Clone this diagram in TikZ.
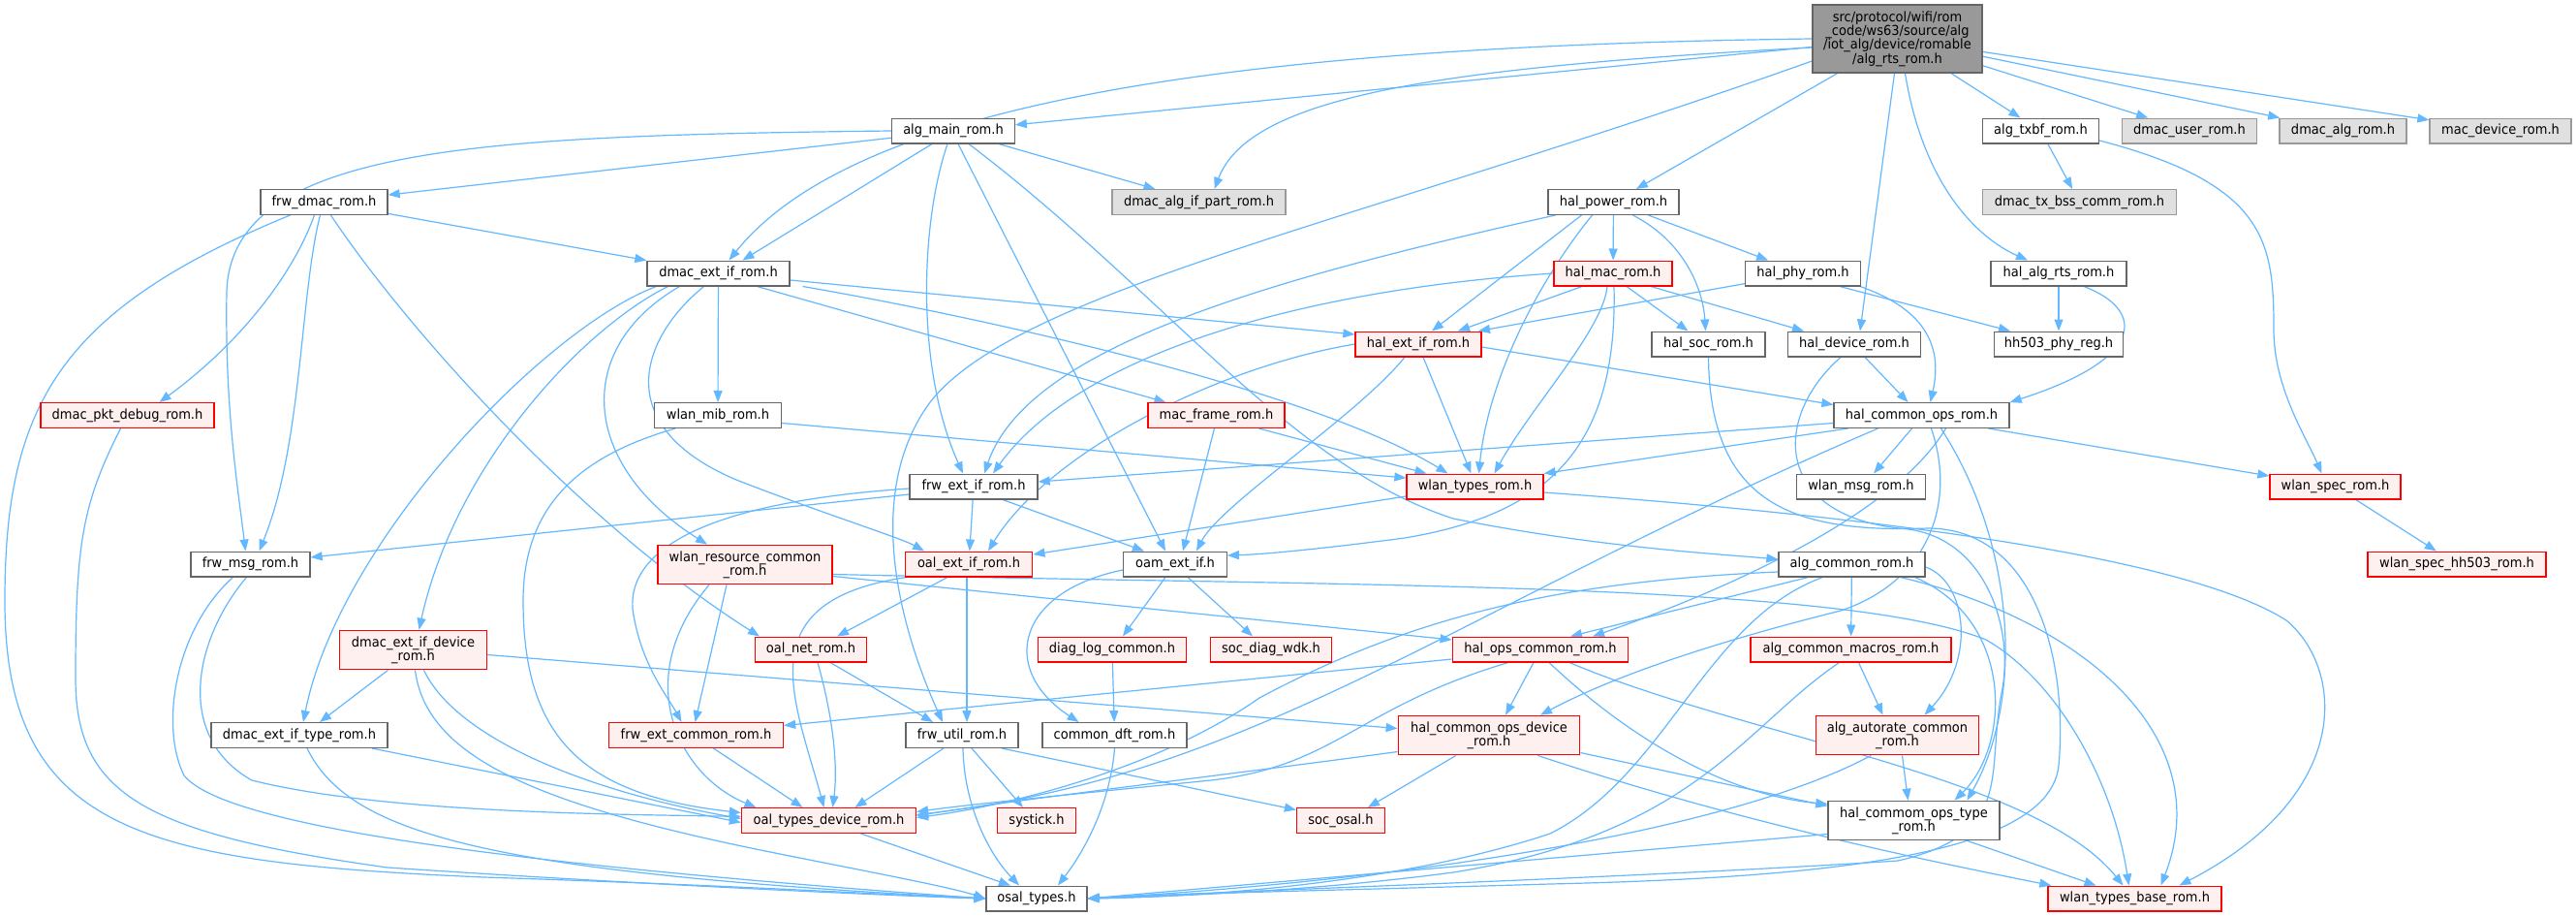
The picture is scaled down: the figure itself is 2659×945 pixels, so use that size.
\documentclass[tikz,border=0pt]{standalone}
\usepackage{fontspec}
\setmainfont{DejaVu Sans}[FakeStretch=0.93]
\usetikzlibrary{arrows.meta}
\definecolor{eblue}{HTML}{63B8FF}
\definecolor{redfill}{HTML}{FFF0F0}
\definecolor{grayfill}{HTML}{E0E0E0}
\definecolor{bgray}{HTML}{666666}
\definecolor{lgray}{HTML}{999999}
\newcommand\fnt{\fontsize{14}{14.3}\selectfont}
\pgfdeclarelayer{back}
\pgfdeclarelayer{bg}
\pgfsetlayers{back,bg,main}
\begin{document}
\begin{tikzpicture}[x=1pt,y=-1pt,
  nd/.style={draw=bgray, fill=white, line width=1.3pt, minimum height=25.7pt, inner sep=0pt, font=\fnt, align=center, text=black},
  rd/.style={nd, draw=red, fill=redfill},
  gy/.style={nd, draw=lgray, fill=grayfill},
  tw/.style={minimum height=40.4pt},
  ln/.style={draw=eblue, line width=1.2pt, -{Triangle[length=12pt,width=9pt]}}]
\useasboundingbox (0,0) rectangle (2659,945);
\begin{pgfonlayer}{back}
\fill[white] (0,0) rectangle (2659,945);
\end{pgfonlayer}
% nodes
\node[nd, fill=lgray, minimum width=175pt, minimum height=70pt] (m) at (1958.5,40) {src/protocol/wifi/rom\\\_code/ws63/source/alg\\/iot\_alg/device/romable\\/alg\_rts\_rom.h};
\node[nd, minimum width=126.5pt] (amain) at (984,135) {alg\_main\_rom.h};
\node[nd, minimum width=120pt] (txbf) at (2106.5,135) {alg\_txbf\_rom.h};
\node[gy, minimum width=139.5pt] (duser) at (2260,135) {dmac\_user\_rom.h};
\node[gy, minimum width=131pt] (dalg) at (2418.5,135) {dmac\_alg\_rom.h};
\node[gy, minimum width=146pt] (macdev) at (2581,135) {mac\_device\_rom.h};
\node[nd, minimum width=131pt] (fdmac) at (334.5,208.5) {frw\_dmac\_rom.h};
\node[gy, minimum width=179pt] (dalgif) at (1237.5,208.5) {dmac\_alg\_if\_part\_rom.h};
\node[nd, minimum width=135pt] (hpower) at (1665.5,208.5) {hal\_power\_rom.h};
\node[gy, minimum width=200pt] (dtxbss) at (2146.5,208.5) {dmac\_tx\_bss\_comm\_rom.h};
\node[nd, minimum width=147pt] (dext) at (741.5,282) {dmac\_ext\_if\_rom.h};
\node[rd, minimum width=122pt] (hmac) at (1665,282) {hal\_mac\_rom.h};
\node[nd, minimum width=118.5pt] (hphy) at (1861,282) {hal\_phy\_rom.h};
\node[nd, minimum width=140pt] (hrts) at (2125,282) {hal\_alg\_rts\_rom.h};
\node[rd, minimum width=130pt] (hext) at (1464,355) {hal\_ext\_if\_rom.h};
\node[nd, minimum width=117pt] (hsoc) at (1763.5,355) {hal\_soc\_rom.h};
\node[nd, minimum width=137.5pt] (hdev) at (1914,355) {hal\_device\_rom.h};
\node[nd, minimum width=133.5pt] (hh503) at (2125,355) {hh503\_phy\_reg.h};
\node[rd, minimum width=179pt] (pktdbg) at (131.5,428.5) {dmac\_pkt\_debug\_rom.h};
\node[nd, minimum width=130.7pt] (mib) at (741,428.5) {wlan\_mib\_rom.h};
\node[rd, minimum width=141pt] (macfr) at (1255.5,428.5) {mac\_frame\_rom.h};
\node[nd, minimum width=181pt] (hcops) at (1983.5,428.5) {hal\_common\_ops\_rom.h};
\node[nd, minimum width=132pt] (fext) at (1005,502) {frw\_ext\_if\_rom.h};
\node[rd, minimum width=141pt] (wtypes) at (1522.5,502) {wlan\_types\_rom.h};
\node[nd, minimum width=133.5pt] (wmsg) at (1921,502) {wlan\_msg\_rom.h};
\node[rd, minimum width=135pt] (wspec) at (2410.5,502) {wlan\_spec\_rom.h};
\node[nd, minimum width=123pt] (fmsg) at (258.5,582) {frw\_msg\_rom.h};
\node[rd, tw, minimum width=180pt] (wres) at (769,582.5) {wlan\_resource\_common\\\_rom.h};
\node[rd, minimum width=131.6pt] (oalext) at (1000,582) {oal\_ext\_if\_rom.h};
\node[nd, minimum width=106.5pt] (oam) at (1213,582) {oam\_ext\_if.h};
\node[nd, minimum width=151pt] (algc) at (1911.5,582) {alg\_common\_rom.h};
\node[rd, minimum width=184pt] (wspech) at (2536,582) {wlan\_spec\_hh503\_rom.h};
\node[rd, tw, minimum width=152pt] (dextdev) at (426.5,670.5) {dmac\_ext\_if\_device\\\_rom.h};
\node[rd, minimum width=115pt] (oalnet) at (837,670) {oal\_net\_rom.h};
\node[rd, minimum width=153.5pt] (diag) at (1148,670) {diag\_log\_common.h};
\node[rd, minimum width=125.5pt] (socdiag) at (1312,670) {soc\_diag\_wdk.h};
\node[rd, minimum width=181.5pt] (hops) at (1590,670) {hal\_ops\_common\_rom.h};
\node[rd, minimum width=207pt] (algmac) at (1910.5,670) {alg\_common\_macros\_rom.h};
\node[nd, minimum width=182pt] (dexttype) at (309,758.5) {dmac\_ext\_if\_type\_rom.h};
\node[rd, minimum width=180pt] (fextc) at (718.5,758.5) {frw\_ext\_common\_rom.h};
\node[nd, minimum width=116pt] (futil) at (993,758.5) {frw\_util\_rom.h};
\node[nd, minimum width=149pt] (cdft) at (1150.5,758.5) {common\_dft\_rom.h};
\node[rd, tw, minimum width=187.5pt] (hcopsdev) at (1537,758.5) {hal\_common\_ops\_device\\\_rom.h};
\node[rd, tw, minimum width=168pt] (algauto) at (1958.5,758.5) {alg\_autorate\_common\\\_rom.h};
\node[rd, minimum width=180pt] (otd) at (855.5,846.5) {oal\_types\_device\_rom.h};
\node[rd, minimum width=80.7pt] (systick) at (1070,846.5) {systick.h};
\node[rd, minimum width=91pt] (socosal) at (1384,846.5) {soc\_osal.h};
\node[nd, tw, minimum width=177pt] (hcotype) at (1975.5,846.5) {hal\_commom\_ops\_type\\\_rom.h};
\node[nd, minimum width=104pt] (osal) at (1070,927) {osal\_types.h};
\node[rd, minimum width=179pt] (wtbase) at (2203.5,927) {wlan\_types\_base\_rom.h};
\begin{pgfonlayer}{bg}
% main
\draw[ln] (m) -- (amain);
\draw[ln] ([yshift=-9pt]m.west) .. controls (1480,70) and (1290,100) .. ([xshift=16pt]dalgif.north);
\draw[ln] (m.west) .. controls (1250,48) and (880,110) .. ([xshift=11pt]dext.north);
\draw[ln] ([yshift=-23pt]m.west) .. controls (1400,230) and (1050,300) .. (960,415) .. controls (890,510) and (930,650) .. ([xshift=-20pt]futil.north);
\draw[ln] (m) -- (hpower);
\draw[ln] ([xshift=-3pt]m.south) -- ([xshift=6pt]hdev.north);
\draw[ln] ([xshift=8pt]m.south) .. controls (1985,190) and (2040,245) .. ([xshift=-32pt]hrts.north);
\draw[ln] (m) -- (txbf);
\draw[ln] (m) -- (duser);
\draw[ln] (m) -- (dalg);
\draw[ln] (m) -- (macdev);
% alg_main
\draw[ln] (amain) -- (fdmac);
\draw[ln] (amain.west) .. controls (500,140) and (240,150) .. (234,300) .. controls (232,420) and (245,500) .. ([xshift=-5pt]fmsg.north);
\draw[ln] (amain) -- ([xshift=25pt]dext.north);
\draw[ln] (amain) -- ([xshift=-45pt]dalgif.north);
\draw[ln] ([xshift=-6pt]amain.south) .. controls (950,230) and (945,380) .. ([xshift=-11pt]fext.north);
\draw[ln] ([xshift=5pt]amain.south) -- ([xshift=-10pt]oam.north);
\draw[ln] ([xshift=16pt]amain.south) .. controls (1200,300) and (1330,480) .. (1500,535) .. controls (1650,565) and (1780,572) .. ([yshift=5pt]algc.west);
% txbf
\draw[ln] (txbf) -- (dtxbss);
\draw[ln] ([yshift=-10pt]txbf.east) .. controls (2340,190) and (2347,250) .. (2347,340) .. controls (2347,400) and (2380,450) .. ([xshift=-14pt]wspec.north);
% frw_dmac
\draw[ln] (fdmac) -- (dext);
\draw[ln] ([xshift=-4pt]fdmac.south) .. controls (310,300) and (312,460) .. ([xshift=9pt]fmsg.north);
\draw[ln] ([xshift=-35pt]fdmac.south) .. controls (60,320) and (5,420) .. (5,620) .. controls (5,860) and (150,890) .. (500,905) .. controls (800,915) and (950,925) .. (osal.west);
\draw[ln] ([xshift=-10pt]fdmac.south) .. controls (300,290) and (240,360) .. ([xshift=33pt]pktdbg.north);
\draw[ln] ([xshift=7pt]fdmac.south) .. controls (420,340) and (600,540) .. ([xshift=-53pt]oalnet.north);
% hal_power
\draw[ln] (hpower) -- (hmac);
\draw[ln] (hpower) -- (hphy);
\draw[ln] ([xshift=-33pt]hpower.south) -- ([xshift=14pt]hext.north);
\draw[ln] ([xshift=20pt]hpower.south) .. controls (1740,250) and (1758,300) .. ([xshift=-3pt]hsoc.north);
\draw[ln] ([xshift=-22pt]hpower.south) .. controls (1580,300) and (1535,400) .. ([xshift=4pt]wtypes.north);
\draw[ln] ([xshift=-60pt]hpower.south) .. controls (1300,290) and (1060,360) .. ([xshift=11pt]fext.north);
% dmac_ext_if
\draw[ln] ([yshift=-7pt]dext.east) -- ([yshift=10pt]hext.west);
\draw[ln] ([xshift=87pt]dext.south) .. controls (1000,325) and (1350,400) .. ([xshift=-28pt]wtypes.north);
\draw[ln] ([xshift=40pt]dext.south) -- ([xshift=-52pt]macfr.north);
\draw[ln] (dext) -- (mib);
\draw[ln] ([xshift=-40pt]dext.south) .. controls (590,360) and (600,480) .. ([xshift=-39pt]wres.north);
\draw[ln] ([xshift=-15pt]dext.south) .. controls (660,350) and (630,440) .. (760,495) .. controls (850,530) and (930,555) .. ([xshift=-46pt]oalext.north);
\draw[ln] ([xshift=-52pt]dext.south) .. controls (600,340) and (470,480) .. ([xshift=6pt]dextdev.north);
\draw[ln] ([xshift=-64pt]dext.south) .. controls (560,340) and (350,560) .. ([xshift=4pt]dexttype.north);
% hal_mac
\draw[ln] ([xshift=-32pt]hmac.south) -- ([xshift=41pt]hext.north);
\draw[ln] ([xshift=14pt]hmac.south) -- ([xshift=-21pt]hsoc.north);
\draw[ln] ([xshift=39pt]hmac.south) -- ([xshift=-52pt]hdev.north);
\draw[ln] (hmac.west) .. controls (1330,300) and (1110,370) .. ([xshift=20pt]fext.north);
\draw[ln] ([xshift=-6pt]hmac.south) .. controls (1655,340) and (1580,420) .. ([xshift=20pt]wtypes.north);
\draw[ln] ([xshift=1pt]hmac.south) .. controls (1670,460) and (1600,530) .. (1450,555) .. controls (1350,568) and (1300,572) .. ([yshift=9pt]oam.east);
% hal_phy
\draw[ln] (hphy) -- ([xshift=62pt]hext.north);
\draw[ln] ([xshift=38pt]hphy.south) -- ([xshift=-50pt]hh503.north);
\draw[ln] ([xshift=59pt]hphy.south) .. controls (1990,320) and (2005,360) .. ([xshift=9pt]hcops.north);
% hal_alg_rts
\draw[ln] (hrts) -- (hh503);
\draw[ln] ([xshift=26pt]hrts.south) .. controls (2215,320) and (2215,370) .. (hcops.north east);
% hal_ext_if
\draw[ln] ([yshift=-3pt]hext.east) -- ([yshift=11pt]hcops.west);
\draw[ln] ([xshift=5pt]hext.south) -- ([xshift=-4pt]wtypes.north);
\draw[ln] (hext.west) .. controls (1250,380) and (1080,470) .. ([xshift=20pt]oalext.north);
\draw[ln] ([xshift=-14pt]hext.south) .. controls (1400,430) and (1260,520) .. ([xshift=22pt]oam.north);
% hal_soc, hal_device
\draw[ln] (hsoc.south) .. controls (1765,520) and (1850,550) .. (1990,545) .. controls (2100,545) and (2135,680) .. (2125,790) .. controls (2115,880) and (1900,905) .. (1600,912) .. controls (1400,918) and (1200,922) .. (osal.east);
\draw[ln] ([xshift=-14pt]hdev.south) .. controls (1830,430) and (1830,530) .. (1960,545) .. controls (2050,550) and (2080,650) .. (2066,715) .. controls (2050,800) and (2080,860) .. (1959,888) .. controls (1700,905) and (1300,918) .. (osal.east);
\draw[ln] ([xshift=11pt]hdev.south) -- ([xshift=-14pt]hcops.north);
% dmac_pkt_debug
\draw[ln] ([xshift=-7pt]pktdbg.south) .. controls (85,520) and (78,560) .. (78,700) .. controls (78,820) and (150,860) .. (400,895) .. controls (700,915) and (950,925) .. (osal.west);
% wlan_mib
\draw[ln] ([yshift=-8pt]mib.east) -- ([yshift=9pt]wtypes.west);
\draw[ln] ([xshift=-44pt]mib.south) .. controls (600,470) and (540,520) .. (540,620) .. controls (540,760) and (600,820) .. ([yshift=8pt]otd.west);
% mac_frame
\draw[ln] ([xshift=44pt]macfr.south) -- ([xshift=-50pt]wtypes.north);
\draw[ln] ([xshift=-2pt]macfr.south) -- ([xshift=8pt]oam.north);
% hal_common_ops
\draw[ln] ([yshift=-8pt]hcops.west) -- ([yshift=5pt]fext.east);
\draw[ln] ([xshift=-76pt]hcops.south) -- (wtypes.north east);
\draw[ln] ([xshift=-10pt]hcops.south) -- ([xshift=13pt]wmsg.north);
\draw[ln] ([xshift=69pt]hcops.south) -- ([yshift=11pt]wspec.west);
\draw[ln] ([xshift=25pt]hcops.south) .. controls (1950,540) and (1750,620) .. ([xshift=54pt]hops.north);
\draw[ln] ([xshift=10pt]hcops.south) .. controls (2020,520) and (1990,600) .. (1900,630) .. controls (1800,655) and (1680,690) .. ([xshift=53pt]hcopsdev.north);
\draw[ln] ([xshift=-45pt]hcops.south) .. controls (1500,630) and (1300,800) .. ([yshift=6pt]otd.east);
\draw[ln] ([xshift=20pt]hcops.south) .. controls (2080,560) and (2090,720) .. ([xshift=55pt]hcotype.north);
% frw_ext_if
\draw[ln] ([yshift=-8pt]fext.west) -- ([yshift=7pt]fmsg.east);
\draw[ln] (fext) -- (oalext);
\draw[ln] ([xshift=30pt]fext.south) -- ([xshift=-32pt]oam.north);
\draw[ln] ([yshift=-2pt]fext.west) .. controls (700,520) and (640,580) .. (655,640) .. controls (665,690) and (690,720) .. ([xshift=-15pt]fextc.north);
% wlan_types
\draw[ln] ([yshift=-10pt]wtypes.west) -- ([yshift=10pt]oalext.east);
\draw[ln] ([yshift=-6pt]wtypes.east) .. controls (1900,530) and (2250,570) .. (2360,640) .. controls (2420,690) and (2430,820) .. ([xshift=46pt]wtbase.north);
% wlan_spec
\draw[ln] (wspec) -- (wspech);
% frw_msg
\draw[ln] ([xshift=-18pt]fmsg.south) .. controls (180,650) and (165,750) .. (190,800) .. controls (230,850) and (500,890) .. (osal.west);
\draw[ln] ([xshift=-4pt]fmsg.south) .. controls (200,660) and (180,760) .. (260,805) .. controls (400,840) and (650,840) .. ([yshift=4pt]otd.west);
% wlan_resource_common
\draw[ln] ([xshift=-19pt]wres.south) -- ([xshift=-1pt]fextc.north);
\draw[ln] ([yshift=-12pt]wres.east) -- ([yshift=10pt]hops.west);
\draw[ln] ([yshift=-10pt]wres.east) .. controls (1400,605) and (1900,600) .. (2050,660) .. controls (2120,700) and (2180,800) .. ([xshift=-6pt]wtbase.north);
\draw[ln] ([xshift=-37pt]wres.south) .. controls (650,700) and (700,800) .. ([xshift=-75pt]otd.north);
% oal_ext_if
\draw[ln] ([xshift=-22pt]oalext.south) -- ([xshift=27pt]oalnet.north);
\draw[ln] ([xshift=-2pt]oalext.south) -- ([xshift=5pt]futil.north);
\draw[ln] ([xshift=-64pt]oalext.south) .. controls (770,620) and (820,720) .. ([xshift=-5pt]otd.north);
% oam_ext_if
\draw[ln] ([xshift=-10pt]oam.south) -- ([xshift=11pt]diag.north);
\draw[ln] ([xshift=13pt]oam.south) -- ([xshift=-19pt]socdiag.north);
\draw[ln] ([yshift=-6pt]oam.west) .. controls (1050,610) and (1030,690) .. ([xshift=-37pt]cdft.north);
% alg_common
\draw[ln] (algc) -- (algmac);
\draw[ln] ([xshift=-45pt]algc.south) -- ([xshift=31pt]hops.north);
\draw[ln] ([yshift=-3pt]algc.east) .. controls (2030,600) and (2040,680) .. ([xshift=28pt]algauto.north);
\draw[ln] ([xshift=65pt]algc.south) .. controls (2080,640) and (2075,770) .. ([xshift=42pt]hcotype.north);
\draw[ln] ([yshift=-8pt]algc.west) .. controls (1600,600) and (1450,640) .. (1300,720) .. controls (1200,790) and (1050,830) .. ([yshift=3pt]otd.east);
\draw[ln] ([xshift=-30pt]algc.south) .. controls (1760,640) and (1720,800) .. (1600,860) .. controls (1450,910) and (1250,925) .. (osal.east);
\draw[ln] ([xshift=50pt]algc.south) .. controls (2150,640) and (2290,760) .. ([xshift=27pt]wtbase.north);
% dmac_ext_if_device
\draw[ln] ([xshift=-26pt]dextdev.south) -- ([xshift=21pt]dexttype.north);
\draw[ln] ([yshift=-5pt]dextdev.east) -- ([yshift=7pt]hcopsdev.west);
\draw[ln] ([xshift=11pt]dextdev.south) .. controls (470,760) and (600,815) .. ([yshift=2pt]otd.west);
\draw[ln] ([xshift=2pt]dextdev.south) .. controls (440,780) and (550,830) .. (800,880) .. controls (900,900) and (980,915) .. (osal.west);
% oal_net
\draw[ln] ([xshift=20pt]oalnet.south) -- ([xshift=-30pt]futil.north);
\draw[ln] ([xshift=7pt]oalnet.south) .. controls (860,740) and (865,790) .. ([xshift=4pt]otd.north);
% diag
\draw[ln] (diag) -- (cdft);
% hal_ops_common
\draw[ln] ([yshift=-10pt]hops.west) -- ([yshift=10pt]fextc.east);
\draw[ln] ([xshift=-7pt]hops.south) -- ([xshift=17pt]hcopsdev.north);
\draw[ln] ([xshift=9pt]hops.south) .. controls (1680,760) and (1780,820) .. ([yshift=17pt]hcotype.west);
\draw[ln] ([xshift=-33pt]hops.south) .. controls (1400,730) and (1380,790) .. (1250,805) .. controls (1100,820) and (1000,830) .. ([yshift=9pt]otd.east);
\draw[ln] ([xshift=30pt]hops.south) .. controls (1800,760) and (2100,800) .. ([xshift=-12pt]wtbase.north);
% alg_common_macros
\draw[ln] ([xshift=8pt]algmac.south) -- ([xshift=-15pt]algauto.north);
\draw[ln] ([xshift=-12pt]algmac.south) .. controls (1800,750) and (1750,860) .. (1500,900) .. controls (1350,920) and (1200,925) .. (osal.east);
% dmac_ext_if_type
\draw[ln] ([xshift=75pt]dexttype.south) -- ([yshift=-2pt]otd.west);
\draw[ln] ([xshift=8pt]dexttype.south) .. controls (360,860) and (500,900) .. (osal.west);
% frw_ext_common
\draw[ln] ([xshift=18pt]fextc.south) -- ([xshift=-27pt]otd.north);
% frw_util
\draw[ln] ([xshift=-19pt]futil.south) -- ([xshift=27pt]otd.north);
\draw[ln] ([xshift=10pt]futil.south) -- ([xshift=-14pt]systick.north);
\draw[ln] ([xshift=1pt]futil.south) .. controls (995,830) and (1020,880) .. ([xshift=-18pt]osal.north);
\draw[ln] ([xshift=41pt]futil.south) -- ([yshift=11pt]socosal.west);
% common_dft
\draw[ln] (cdft.south) .. controls (1145,840) and (1110,890) .. ([xshift=22pt]osal.north);
% hal_common_ops_device
\draw[ln] ([yshift=-17pt]hcopsdev.west) .. controls (1300,795) and (1050,825) .. ([yshift=5pt]otd.east);
\draw[ln] ([xshift=-34pt]hcopsdev.south) -- ([xshift=28pt]socosal.north);
\draw[ln] ([yshift=-18pt]hcopsdev.east) -- ([yshift=15pt]hcotype.west);
\draw[ln] ([xshift=50pt]hcopsdev.south) .. controls (1800,850) and (2000,890) .. ([xshift=4pt]wtbase.north west);
% alg_autorate_common
\draw[ln] ([xshift=5pt]algauto.south) -- ([xshift=-6pt]hcotype.north);
\draw[ln] ([xshift=-27pt]algauto.south) .. controls (1800,850) and (1500,905) .. (osal.east);
% oal_types_device
\draw[ln] ([xshift=33pt]otd.south) -- ([xshift=-27pt]osal.north);
% hal_commom_ops_type
\draw[ln] ([yshift=-14pt]hcotype.west) -- (osal.east);
\draw[ln] ([xshift=55pt]hcotype.south) -- ([xshift=-40pt]wtbase.north);
\end{pgfonlayer}
\end{tikzpicture}
\end{document}
